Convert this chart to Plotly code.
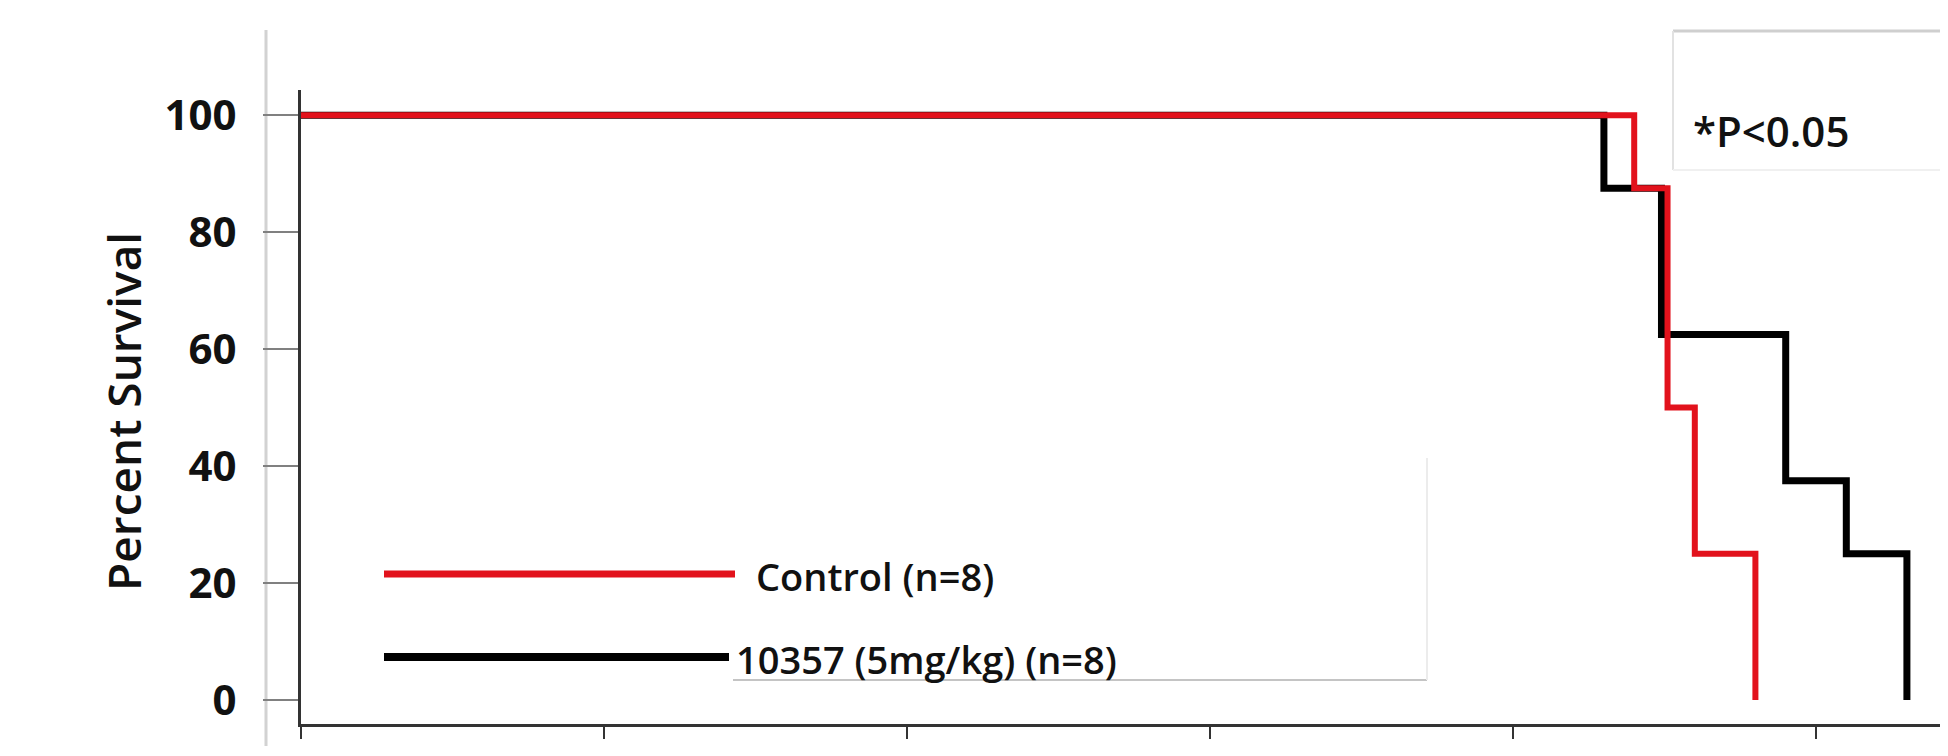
import plotly.graph_objects as go

# ---- data ----
control_days = [0, 44, 45.1, 46, 48]
control_surv = [100, 87.5, 50, 25, 0]
treat_days = [0, 43, 44.9, 49, 51, 53]
treat_surv = [100, 87.5, 62.5, 37.5, 25, 0]
series_names = ["Control (n=8)", "10357 (5mg/kg) (n=8)"]
y_ticks = [0, 20, 40, 60, 80, 100]
x_ticks = [0, 10, 20, 30, 40, 50]
p_text = "*P<0.05"
y_title = "Percent Survival"

W, H = 1948, 756
L, R, T, B = 293, 0, 82, 40
PW, PH = W - L - R, H - T - B


def px(x):
    return (x - L) / PW


def py(y):
    return (H - B - y) / PH


RED = "#e2121c"
BLACK = "#000000"
FONT = "Open Sans"

fig = go.Figure()
fig.add_trace(go.Scatter(x=treat_days, y=treat_surv, mode="lines", line_shape="hv",
                         line=dict(color=BLACK, width=7), name=series_names[1],
                         showlegend=False, hoverinfo="skip"))
fig.add_trace(go.Scatter(x=control_days, y=control_surv, mode="lines", line_shape="hv",
                         line=dict(color=RED, width=6), name=series_names[0],
                         showlegend=False, hoverinfo="skip"))

shapes = []
# light grey frame line at far left
shapes.append(dict(type="line", xref="paper", yref="paper", x0=px(258), x1=px(258),
                   y0=py(22), y1=py(738), line=dict(color="#d2d2d2", width=3), layer="below"))
# legend box edges
shapes.append(dict(type="line", xref="paper", yref="paper", x0=px(725), x1=px(1419),
                   y0=py(672), y1=py(672), line=dict(color="#c4c4c4", width=2)))
shapes.append(dict(type="line", xref="paper", yref="paper", x0=px(1419), x1=px(1419),
                   y0=py(450), y1=py(672), line=dict(color="#ececec", width=2)))
# annotation box edges
shapes.append(dict(type="line", xref="paper", yref="paper", x0=px(1665), x1=px(1948),
                   y0=py(23), y1=py(23), line=dict(color="#cfcfcf", width=3)))
shapes.append(dict(type="line", xref="paper", yref="paper", x0=px(1665), x1=px(1665),
                   y0=py(23), y1=py(162), line=dict(color="#e2e2e2", width=2)))
shapes.append(dict(type="line", xref="paper", yref="paper", x0=px(1665), x1=px(1948),
                   y0=py(162), y1=py(162), line=dict(color="#f0f0f0", width=2)))
# legend samples
shapes.append(dict(type="line", xref="paper", yref="paper", x0=px(376), x1=px(727),
                   y0=py(566), y1=py(566), line=dict(color=RED, width=7)))
shapes.append(dict(type="line", xref="paper", yref="paper", x0=px(376), x1=px(721),
                   y0=py(649), y1=py(649), line=dict(color=BLACK, width=8)))

annotations = [
    dict(text=series_names[0], xref="paper", yref="paper", x=px(746), y=py(568),
         xanchor="left", yanchor="middle", showarrow=False,
         font=dict(family=FONT, size=38, color="#111", weight=600)),
    dict(text=series_names[1], xref="paper", yref="paper", x=px(726), y=py(651),
         xanchor="left", yanchor="middle", showarrow=False,
         font=dict(family=FONT, size=38, color="#111", weight=600)),
    dict(text=p_text, xref="paper", yref="paper", x=px(1683), y=py(122),
         xanchor="left", yanchor="middle", showarrow=False,
         font=dict(family=FONT, size=42, color="#111", weight=600)),
    dict(text=y_title, xref="paper", yref="paper", x=px(115), y=py(404),
         xanchor="center", yanchor="middle", showarrow=False, textangle=-90,
         font=dict(family=FONT, size=46, color="#111", weight=600)),
]

fig.update_layout(
    width=W, height=H, autosize=False,
    margin=dict(l=L, r=R, t=T, b=B, pad=0),
    paper_bgcolor="white", plot_bgcolor="white",
    shapes=shapes, annotations=annotations,
    font=dict(family=FONT),
)
fig.update_xaxes(range=[0, 54.62], tickvals=x_ticks, showticklabels=False,
                 ticks="outside", ticklen=12, tickwidth=2, tickcolor="#333",
                 showline=True, linecolor="#333", linewidth=3,
                 showgrid=False, zeroline=False)
fig.update_yaxes(range=[-4.1, 104.3], tickvals=y_ticks,
                 ticks="outside", ticklen=35, tickwidth=2, tickcolor="#808080",
                 ticklabelstandoff=18,
                 tickfont=dict(family=FONT, size=42, color="#111", weight="bold"),
                 showline=True, linecolor="#333", linewidth=3,
                 showgrid=False, zeroline=False)

fig.write_html("out.html")
